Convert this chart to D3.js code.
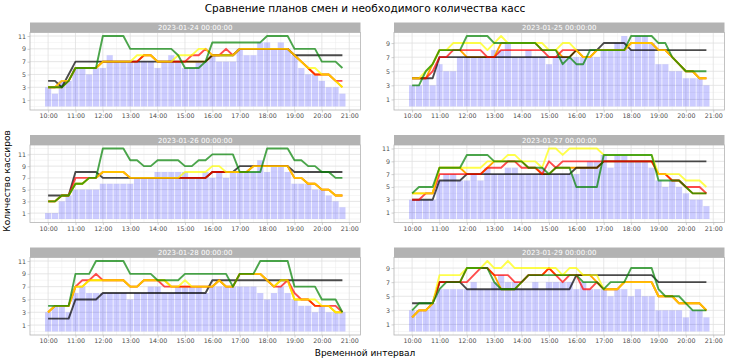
<!DOCTYPE html>
<html>
<head>
<meta charset="utf-8">
<script src="https://cdn.jsdelivr.net/npm/d3@7"></script>
<style>
  body { margin: 0; background: #fff; }
  svg { display: block; }
  text { font-family: "DejaVu Sans", sans-serif; }
</style>
</head>
<body>
<div id="chart"></div>
<script>
// time slots (15 min) and facet labels
var slots = ["10:00","10:15","10:30","10:45","11:00","11:15","11:30","11:45",
             "12:00","12:15","12:30","12:45","13:00","13:15","13:30","13:45",
             "14:00","14:15","14:30","14:45","15:00","15:15","15:30","15:45",
             "16:00","16:15","16:30","16:45","17:00","17:15","17:30","17:45",
             "18:00","18:15","18:30","18:45","19:00","19:15","19:30","19:45",
             "20:00","20:15","20:30","20:45"];
var days = ["2023-01-24 00:00:00", "2023-01-25 00:00:00", "2023-01-26 00:00:00",
            "2023-01-27 00:00:00", "2023-01-28 00:00:00", "2023-01-29 00:00:00"];
var xTicks = ["10:00","11:00","12:00","13:00","14:00","15:00","16:00","17:00","18:00","19:00","20:00","21:00"];
var yTicks = [1, 3, 5, 7, 9, 11];

// необходимое количество касс (bars)
var need24 = [3,2,4,4,6,6,5,6,6,8,7,7,7,7,7,7,6,7,8,7,6,6,7,7,8,7,7,7,9,8,8,10,10,9,10,9,8,6,5,5,4,3,3,2];
var need25 = [3,3,4,3,6,5,5,7,7,7,7,7,8,8,9,7,7,8,7,7,6,7,7,7,7,7,7,7,8,8,9,10,8,10,10,9,6,6,5,5,4,4,4,3];
var need26 = [1,1,3,4,5,5,5,5,6,6,6,6,6,7,7,7,8,8,8,8,8,7,7,8,7,8,7,8,8,8,8,10,8,9,9,8,6,6,6,5,5,4,3,2];
var need27 = [3,3,3,3,6,7,7,6,6,7,6,8,7,7,8,8,7,7,7,8,7,7,7,7,7,8,9,9,10,8,10,10,9,9,9,8,6,5,6,5,4,3,3,2];
var need28 = [3,4,4,3,6,7,6,6,6,6,6,6,5,6,6,7,7,6,6,7,7,7,7,6,7,7,7,7,7,7,7,6,5,6,7,6,5,4,4,3,4,3,3,3];
var need29 = [3,3,3,4,6,6,6,6,6,7,6,6,7,8,7,7,6,6,7,6,7,7,7,7,6,7,6,6,6,5,6,6,5,6,5,5,3,3,3,3,2,3,3,2];

// plans (lines)
var gray24   = [4,4,3,5,7,7,7,7,7,7,7,7,7,7,7,7,7,7,7,7,7,7,7,7,8,8,8,8,9,9,9,9,9,9,9,9,8,8,8,8,8,8,8,8];
var orange24 = [3,3,3,4,6,6,6,6,7,7,7,7,7,7,8,8,7,7,7,7,7,7,7,7,8,8,8,8,9,9,9,9,9,9,9,9,8,7,6,5,5,5,4,3];
var red24    = [3,3,4,4,6,6,6,6,7,7,7,7,7,7,8,8,7,7,7,7,7,8,8,9,8,8,9,8,9,9,9,9,9,9,9,9,8,7,6,5,5,5,4,4];
var yellow24 = [3,3,4,4,6,6,6,6,7,7,7,7,7,8,8,8,7,7,7,8,8,8,9,9,8,8,8,8,9,9,9,9,9,9,9,9,8,7,6,6,5,5,4,3];
var green24  = [3,3,3,4,6,6,6,6,11,11,11,11,9,9,9,9,9,9,9,8,6,6,6,7,10,10,10,10,10,10,10,10,11,11,11,11,9,9,9,9,7,7,7,6];

var gray25   = [4,4,4,4,7,7,7,7,7,7,7,7,7,7,7,7,7,7,7,7,7,7,7,7,8,8,8,8,9,9,9,9,8,8,8,8,8,8,8,8,8,8,8,8];
var orange25 = [4,4,4,6,8,8,8,8,7,7,7,7,7,9,9,9,9,9,9,8,8,8,7,7,8,7,7,8,8,8,8,8,9,9,9,9,8,8,7,6,5,5,4,4];
var red25    = [4,4,4,5,7,7,8,8,8,8,8,7,7,8,8,8,8,8,8,8,7,7,8,8,8,7,7,8,8,8,8,8,9,9,9,9,8,8,7,6,5,5,4,4];
var yellow25 = [4,4,5,6,8,8,9,9,9,9,9,8,9,10,9,9,9,9,9,9,8,8,9,9,8,7,7,8,8,8,8,8,9,9,9,9,8,8,7,6,5,5,4,4];
var green25  = [3,3,5,6,8,8,8,8,10,10,10,10,9,9,9,9,9,9,9,8,8,8,6,7,6,6,8,8,8,8,8,8,10,10,10,10,9,9,7,6,5,5,5,5];

var gray26   = [4,4,4,4,8,8,8,8,7,7,7,7,7,7,7,7,7,7,7,7,7,7,7,7,8,8,8,8,9,9,9,9,9,9,9,9,8,8,8,8,8,8,8,8];
var orange26 = [3,3,4,4,6,6,7,7,8,8,8,8,7,7,7,7,7,7,7,7,7,7,7,7,8,8,8,8,8,8,9,9,9,9,9,9,7,7,6,6,5,5,4,4];
var red26    = [3,3,4,4,7,7,7,7,8,8,8,8,7,7,7,7,7,7,7,7,7,7,7,7,8,8,8,8,8,8,9,9,9,9,9,9,7,7,6,6,5,5,4,4];
var yellow26 = [3,3,4,4,6,6,7,7,8,8,8,8,7,7,7,7,7,7,7,7,8,8,8,8,9,9,8,8,8,8,9,9,9,9,9,9,7,7,6,6,5,5,4,4];
var green26  = [3,3,4,4,6,6,7,7,12,12,12,12,10,10,9,9,10,10,10,10,9,9,10,10,11,11,11,11,8,8,8,8,12,12,12,12,10,10,9,9,8,8,7,7];

var gray27   = [3,3,3,3,6,6,6,6,7,7,7,7,7,7,7,7,7,7,7,7,7,7,7,7,8,8,8,8,9,9,9,9,9,9,9,9,9,9,9,9,9,9,9,9];
var orange27 = [4,4,4,4,8,8,8,8,7,7,7,8,9,9,9,9,9,8,8,7,7,8,8,8,8,8,8,8,9,9,9,9,9,9,9,9,7,7,6,6,5,4,4,4];
var red27    = [3,3,4,4,7,7,7,7,7,7,7,8,8,8,9,9,8,8,8,7,9,8,9,9,9,9,9,9,9,9,9,9,9,9,9,9,7,7,6,6,5,5,5,4];
var yellow27 = [4,4,4,4,8,8,8,8,8,8,8,9,9,9,10,10,9,9,9,8,11,11,10,11,11,11,11,11,10,10,10,10,10,10,10,10,7,7,7,7,6,6,6,5];
var green27  = [4,5,5,5,8,8,8,8,10,10,10,10,9,9,9,9,9,8,8,8,7,8,8,8,5,5,5,5,10,10,10,10,10,10,10,10,6,6,6,6,5,4,4,4];

var gray28   = [2,2,2,2,5,5,5,5,6,6,6,6,6,6,6,6,6,6,6,6,6,6,6,6,8,8,8,8,8,8,8,8,8,8,8,8,8,8,8,8,8,8,8,8];
var orange28 = [3,4,4,4,7,7,8,8,8,8,8,8,7,7,8,8,8,8,7,7,7,7,7,7,7,8,7,7,9,9,9,9,8,7,8,8,5,5,5,4,4,4,3,3];
var red28    = [3,4,4,4,7,8,8,9,8,8,8,8,7,7,8,8,8,7,7,7,7,7,7,7,7,8,7,7,9,9,9,9,8,7,7,8,6,5,5,4,4,4,4,3];
var yellow28 = [3,4,4,4,7,7,8,8,8,8,8,8,7,7,8,8,8,8,7,7,8,7,7,7,7,8,7,7,9,9,9,9,8,7,8,8,5,5,5,5,4,4,3,3];
var green28  = [4,4,4,4,9,9,9,11,11,11,11,11,9,9,9,9,8,8,8,8,9,9,9,9,9,9,9,7,9,9,9,11,11,11,11,11,7,7,7,7,5,5,5,3];

var gray29   = [4,4,4,4,7,7,7,7,6,6,6,6,6,6,6,6,6,6,6,6,6,6,6,6,8,8,8,8,8,8,8,8,8,8,8,8,7,7,7,7,7,7,7,7];
var orange29 = [2,3,3,4,7,7,7,7,9,9,9,9,8,6,6,6,7,8,8,8,9,8,8,8,8,8,8,7,6,6,6,7,7,7,7,7,5,5,5,4,4,4,4,3];
var red29    = [2,3,3,4,7,7,7,7,7,8,9,9,8,8,8,7,7,8,8,8,9,8,7,8,8,6,6,7,6,6,6,7,7,7,7,7,5,5,5,4,4,4,4,3];
var yellow29 = [2,3,3,4,8,8,8,8,9,9,9,10,9,9,10,9,9,9,9,9,9,9,8,9,9,8,8,8,6,6,6,7,7,7,7,7,5,5,5,4,4,4,4,3];
var green29  = [3,4,4,4,6,7,7,7,9,9,9,9,7,6,6,6,7,8,8,8,8,8,8,8,8,7,7,7,6,7,7,7,9,9,9,9,6,5,5,5,4,3,3,3];

var needs   = [need24, need25, need26, need27, need28, need29];
var grays   = [gray24, gray25, gray26, gray27, gray28, gray29];
var oranges = [orange24, orange25, orange26, orange27, orange28, orange29];
var reds    = [red24, red25, red26, red27, red28, red29];
var yellows = [yellow24, yellow25, yellow26, yellow27, yellow28, yellow29];
var greens  = [green24, green25, green26, green27, green28, green29];

//////////////////////////////////////////
// layout                               //
//////////////////////////////////////////
var W = 730, H = 363;
var colX = [30, 394];
var rowY = [22.5, 135, 247.5];
var panelW = 330.5, panelH = 77.5, stripH = 10;

// draw order: orange (opaque) at the bottom, the others translucent on top
var lineStyles = [
  {key: "orange", color: "#ffa500", opacity: 1},
  {key: "gray",   color: "#000000", opacity: 0.7},
  {key: "red",    color: "#ff0000", opacity: 0.7},
  {key: "yellow", color: "#ffff00", opacity: 0.7},
  {key: "green",  color: "#008000", opacity: 0.7}
];

function toHours(s) {
  var p = s.split(":");
  return +p[0] + (+p[1]) / 60;
}

var hrs = slots.map(toHours);
var barW = 0.9 * 0.25;
var xLo = d3.min(hrs) - barW / 2, xHi = d3.max(hrs) + barW / 2;
var xPad = (xHi - xLo) * 0.05;

var svg = d3.select("#chart").append("svg")
  .attr("width", W).attr("height", H);

svg.append("text")
  .attr("x", W / 2).attr("y", 11.5)
  .attr("text-anchor", "middle")
  .attr("font-size", 10.5)
  .attr("fill", "#000")
  .text("Сравнение планов смен и необходимого количества касс");

svg.append("text")
  .attr("transform", "translate(10," + 181 + ") rotate(-90)")
  .attr("text-anchor", "middle")
  .attr("font-size", 9)
  .text("Количество кассиров");

svg.append("text")
  .attr("x", W / 2).attr("y", 355.5)
  .attr("text-anchor", "middle")
  .attr("font-size", 9)
  .text("Временной интервал");

days.forEach(function(day, k) {
  var col = k % 2, row = Math.floor(k / 2);
  var series = {
    gray: grays[k], orange: oranges[k], red: reds[k], yellow: yellows[k], green: greens[k]
  };
  var yMax = d3.max([needs[k], grays[k], oranges[k], reds[k], yellows[k], greens[k]],
                    function(a) { return d3.max(a); });

  var x = d3.scaleLinear().domain([xLo - xPad, xHi + xPad]).range([0, panelW]);
  var y = d3.scaleLinear().domain([-0.05 * yMax, yMax * 1.05]).range([panelH, 0]);

  var g = svg.append("g")
    .attr("transform", "translate(" + colX[col] + "," + rowY[row] + ")");

  // strip
  g.append("rect")
    .attr("width", panelW).attr("height", stripH)
    .attr("fill", "#b3b3b3");
  g.append("text")
    .attr("x", panelW / 2).attr("y", stripH / 2)
    .attr("dy", "0.36em")
    .attr("text-anchor", "middle")
    .attr("font-size", 7)
    .attr("fill", "#fff")
    .text(day);

  var p = g.append("g").attr("transform", "translate(0," + stripH + ")");

  // grid
  var xMinor = d3.range(9.5, 21.5, 1).filter(function(v) { return v > x.domain()[0] && v < x.domain()[1]; });
  var yMinor = d3.range(0, 14, 2).filter(function(v) { return v > y.domain()[0] && v < y.domain()[1]; });
  var yMajor = yTicks.filter(function(v) { return v < y.domain()[1]; });
  var xMajor = xTicks.map(toHours);

  p.selectAll(".gx-minor").data(xMinor).enter().append("line")
    .attr("x1", x).attr("x2", x).attr("y1", 0).attr("y2", panelH)
    .attr("stroke", "#ededed").attr("stroke-width", 0.5);
  p.selectAll(".gy-minor").data(yMinor).enter().append("line")
    .attr("x1", 0).attr("x2", panelW).attr("y1", y).attr("y2", y)
    .attr("stroke", "#ededed").attr("stroke-width", 0.5);
  p.selectAll(".gx").data(xMajor).enter().append("line")
    .attr("x1", x).attr("x2", x).attr("y1", 0).attr("y2", panelH)
    .attr("stroke", "#e0e0e0").attr("stroke-width", 0.8);
  p.selectAll(".gy").data(yMajor).enter().append("line")
    .attr("x1", 0).attr("x2", panelW).attr("y1", y).attr("y2", y)
    .attr("stroke", "#e0e0e0").attr("stroke-width", 0.8);

  // bars
  p.selectAll(".bar").data(needs[k]).enter().append("rect")
    .attr("x", function(d, i) { return x(hrs[i] - barW / 2); })
    .attr("width", x(barW) - x(0))
    .attr("y", function(d) { return y(d); })
    .attr("height", function(d) { return y(0) - y(d); })
    .attr("fill", "#0000ff")
    .attr("fill-opacity", 0.2);

  // plan lines
  var line = d3.line()
    .x(function(d, i) { return x(hrs[i]); })
    .y(function(d) { return y(d); });

  lineStyles.forEach(function(s) {
    p.append("path")
      .attr("d", line(series[s.key]))
      .attr("fill", "none")
      .attr("stroke", s.color)
      .attr("stroke-opacity", s.opacity)
      .attr("stroke-width", 1.9)
      .attr("stroke-linejoin", "round");
  });

  // border
  p.append("rect")
    .attr("width", panelW).attr("height", panelH)
    .attr("fill", "none")
    .attr("stroke", "#b3b3b3").attr("stroke-width", 0.8);

  // axes
  var ax = p.append("g")
    .attr("transform", "translate(0," + panelH + ")")
    .call(d3.axisBottom(x).tickValues(xMajor).tickSize(2.5).tickPadding(1.5)
      .tickFormat(function(v, i) { return xTicks[i]; }));
  var ay = p.append("g")
    .call(d3.axisLeft(y).tickValues(yMajor).tickSize(2.5).tickPadding(1.5));

  [ax, ay].forEach(function(a) {
    a.select(".domain").remove();
    a.selectAll("line").attr("stroke", "#b3b3b3").attr("stroke-width", 0.6);
    a.selectAll("text").attr("fill", "#4d4d4d").attr("font-size", 6.3)
      .attr("font-family", "DejaVu Sans, sans-serif");
  });
});
</script>
</body>
</html>
